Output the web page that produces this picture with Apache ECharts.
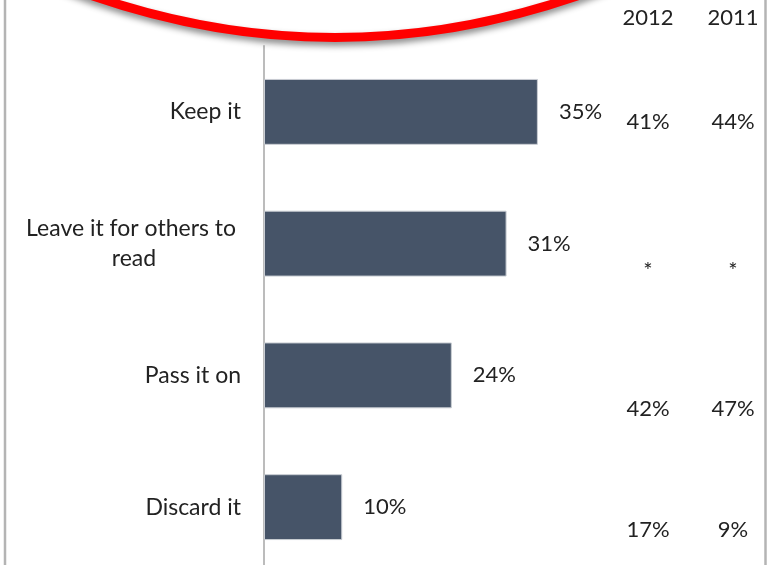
<!DOCTYPE html>
<html>
<head>
<meta charset="utf-8">
<script src="https://cdn.jsdelivr.net/npm/echarts@6/dist/echarts.min.js"></script>
<style>
  html, body { margin: 0; padding: 0; background: #fff; }
  #main { width: 782px; height: 565px; }
</style>
</head>
<body>
<div id="main"></div>
<script>
// what people do with the paper once read
var categories = ['Keep it', 'Leave it for others to read', 'Pass it on', 'Discard it']
var values = [35, 31, 24, 10]
var years = ['2012', '2011']
var col2012 = ['41%', '*', '42%', '17%']
var col2011 = ['44%', '*', '47%', '9%']

var FONT = 'Lato'
var TEXT = '#222'
var SIZE = 22

// layout of the side table (pixels)
var colX = [648, 733]
var rowY = [122, 271, 409, 530]

var graphics = []
// frame lines
graphics.push({ type: 'line', shape: { x1: 5, y1: 0, x2: 5, y2: 565 }, style: { stroke: '#b4b4b4', lineWidth: 2.5 } })
graphics.push({ type: 'line', shape: { x1: 765.5, y1: 0, x2: 765.5, y2: 565 }, style: { stroke: '#b4b4b4', lineWidth: 2.5 } })
// red highlight curve
graphics.push({
  type: 'bezierCurve',
  shape: { x1: 45, y1: -22, x2: 625, y2: -22, cpx1: 335, cpy1: 97 },
  style: {
    stroke: '#ff0000', lineWidth: 9, fill: null,
    shadowColor: 'rgba(0,0,0,0.45)', shadowBlur: 6, shadowOffsetY: 4
  },
  z: 10
})
years.forEach(function (y, i) {
  graphics.push({ type: 'text', x: colX[i], y: 18, style: { text: y, font: SIZE + 'px ' + FONT, fill: TEXT, align: 'center', verticalAlign: 'middle' } })
})
;[col2012, col2011].forEach(function (col, i) {
  col.forEach(function (t, r) {
    graphics.push({ type: 'text', x: colX[i], y: rowY[r], style: { text: t, font: SIZE + 'px ' + FONT, fill: TEXT, align: 'center', verticalAlign: 'middle' } })
  })
})

// wrapped labels are centred line by line, as in the source slide
var yData = categories.map(function (c) {
  if (c.length > 20) {
    return { value: c, textStyle: { align: 'center', padding: [0, 214, 0, 0] } }
  }
  return c
})

var chart = echarts.init(document.getElementById('main'))
chart.setOption({
  animation: false,
  backgroundColor: '#fff',
  grid: { left: 264, top: 46, width: 313, height: 527, outerBoundsMode: 'none', containLabel: false },
  xAxis: { type: 'value', min: 0, max: 40, show: false },
  yAxis: {
    type: 'category',
    data: yData,
    inverse: true,
    axisLine: { show: true, lineStyle: { color: '#bcbcbc', width: 2 } },
    axisTick: { show: false },
    axisLabel: {
      margin: 23,
      color: TEXT,
      fontFamily: FONT,
      fontSize: 23,
      lineHeight: 30,
      align: 'right',
      width: 225,
      overflow: 'break'
    }
  },
  series: [{
    type: 'bar',
    data: values,
    barCategoryGap: '50%',
    itemStyle: { color: '#465468', borderColor: '#c9cdd3', borderWidth: 1 },
    label: {
      show: true,
      position: 'right',
      distance: 21,
      formatter: '{c}%',
      color: TEXT,
      fontFamily: FONT,
      fontSize: SIZE
    }
  }],
  graphic: graphics
})
</script>
</body>
</html>
